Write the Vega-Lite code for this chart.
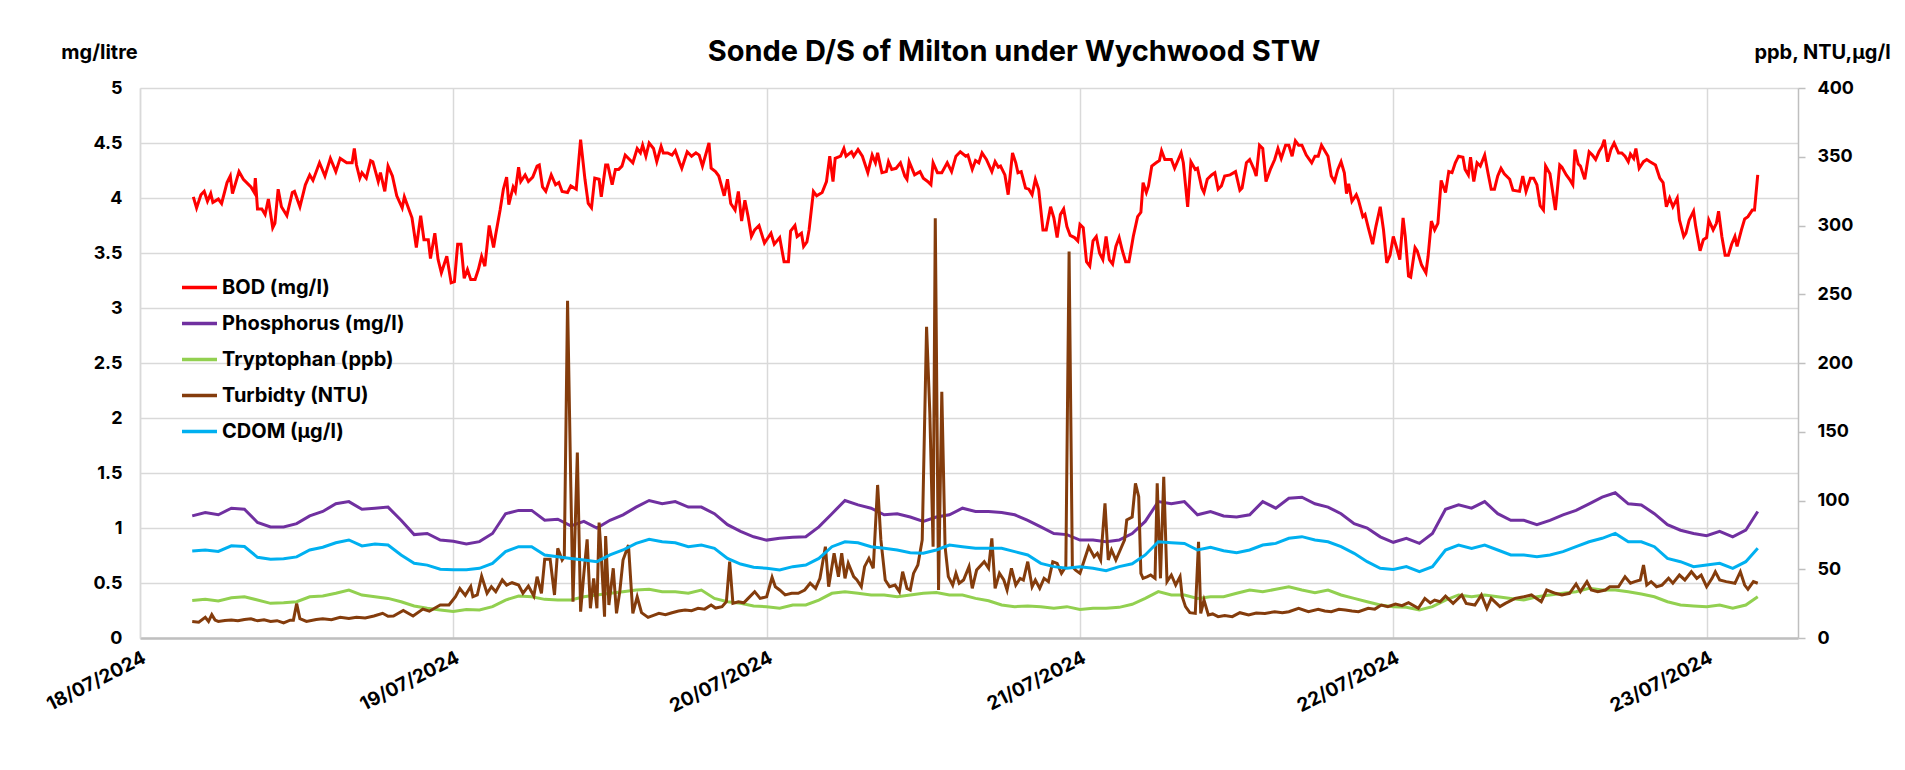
{
"$schema": "https://vega.github.io/schema/vega-lite/v6.json",
"width": 1658, "height": 550,
"autosize": {"type": "none"},
"padding": {"left": 140, "top": 88, "right": 107, "bottom": 132},
"background": "white",
"title": {"text": "Sonde D/S of Milton under Wychwood STW", "fontSize": 29, "fontWeight": "bold", "color": "#000", "anchor": "middle", "frame": "group", "dx": 45, "offset": -25, "font": "Inter"},
"config": {
 "font": "Inter",
 "view": {"stroke": null},
 "axis": {"labelColor": "#000", "titleColor": "#000", "labelFontWeight": "bold", "titleFontWeight": "bold", "labelFont": "Inter", "titleFont": "Inter"}
},
"datasets": {
"bod": [
{"t":"2024-07-18T04:05","v":4.01},{"t":"2024-07-18T04:20","v":3.91},{"t":"2024-07-18T04:40","v":4.03},{"t":"2024-07-18T04:55","v":4.06},{"t":"2024-07-18T05:10","v":3.97},{"t":"2024-07-18T05:25","v":4.04},{"t":"2024-07-18T05:35","v":3.96},{"t":"2024-07-18T06:00","v":3.99},{"t":"2024-07-18T06:15","v":3.95},{"t":"2024-07-18T06:40","v":4.14},{"t":"2024-07-18T06:55","v":4.2},{"t":"2024-07-18T07:05","v":4.04},{"t":"2024-07-18T07:35","v":4.24},{"t":"2024-07-18T07:55","v":4.17},{"t":"2024-07-18T08:30","v":4.1},{"t":"2024-07-18T08:45","v":4.05},{"t":"2024-07-18T08:50","v":4.18},{"t":"2024-07-18T09:00","v":3.9},{"t":"2024-07-18T09:20","v":3.9},{"t":"2024-07-18T09:35","v":3.85},{"t":"2024-07-18T09:50","v":3.99},{"t":"2024-07-18T10:10","v":3.73},{"t":"2024-07-18T10:20","v":3.77},{"t":"2024-07-18T10:35","v":4.08},{"t":"2024-07-18T10:50","v":3.92},{"t":"2024-07-18T11:15","v":3.84},{"t":"2024-07-18T11:40","v":4.05},{"t":"2024-07-18T11:50","v":4.06},{"t":"2024-07-18T12:15","v":3.92},{"t":"2024-07-18T12:40","v":4.12},{"t":"2024-07-18T13:00","v":4.21},{"t":"2024-07-18T13:15","v":4.16},{"t":"2024-07-18T13:45","v":4.32},{"t":"2024-07-18T14:10","v":4.2},{"t":"2024-07-18T14:35","v":4.36},{"t":"2024-07-18T15:00","v":4.24},{"t":"2024-07-18T15:20","v":4.36},{"t":"2024-07-18T15:50","v":4.32},{"t":"2024-07-18T16:15","v":4.32},{"t":"2024-07-18T16:25","v":4.45},{"t":"2024-07-18T16:35","v":4.3},{"t":"2024-07-18T16:50","v":4.18},{"t":"2024-07-18T17:00","v":4.23},{"t":"2024-07-18T17:20","v":4.18},{"t":"2024-07-18T17:40","v":4.34},{"t":"2024-07-18T17:50","v":4.33},{"t":"2024-07-18T18:15","v":4.15},{"t":"2024-07-18T18:25","v":4.23},{"t":"2024-07-18T18:45","v":4.06},{"t":"2024-07-18T19:00","v":4.29},{"t":"2024-07-18T19:20","v":4.2},{"t":"2024-07-18T19:40","v":4.02},{"t":"2024-07-18T20:05","v":3.91},{"t":"2024-07-18T20:15","v":4.01},{"t":"2024-07-18T20:50","v":3.82},{"t":"2024-07-18T21:10","v":3.55},{"t":"2024-07-18T21:30","v":3.84},{"t":"2024-07-18T21:45","v":3.62},{"t":"2024-07-18T22:05","v":3.62},{"t":"2024-07-18T22:15","v":3.45},{"t":"2024-07-18T22:35","v":3.68},{"t":"2024-07-18T22:50","v":3.44},{"t":"2024-07-18T23:05","v":3.32},{"t":"2024-07-18T23:30","v":3.47},{"t":"2024-07-18T23:50","v":3.23},
{"t":"2024-07-19T00:05","v":3.24},{"t":"2024-07-19T00:20","v":3.58},{"t":"2024-07-19T00:35","v":3.58},{"t":"2024-07-19T00:50","v":3.27},{"t":"2024-07-19T01:05","v":3.35},{"t":"2024-07-19T01:20","v":3.26},{"t":"2024-07-19T01:40","v":3.26},{"t":"2024-07-19T01:55","v":3.35},{"t":"2024-07-19T02:10","v":3.47},{"t":"2024-07-19T02:25","v":3.38},{"t":"2024-07-19T02:45","v":3.75},{"t":"2024-07-19T03:05","v":3.55},{"t":"2024-07-19T03:15","v":3.67},{"t":"2024-07-19T03:35","v":3.89},{"t":"2024-07-19T03:50","v":4.08},{"t":"2024-07-19T04:05","v":4.19},{"t":"2024-07-19T04:15","v":3.94},{"t":"2024-07-19T04:35","v":4.1},{"t":"2024-07-19T04:45","v":4.06},{"t":"2024-07-19T05:00","v":4.28},{"t":"2024-07-19T05:10","v":4.15},{"t":"2024-07-19T05:30","v":4.21},{"t":"2024-07-19T05:45","v":4.15},{"t":"2024-07-19T06:05","v":4.19},{"t":"2024-07-19T06:25","v":4.29},{"t":"2024-07-19T06:35","v":4.3},{"t":"2024-07-19T06:50","v":4.1},{"t":"2024-07-19T07:05","v":4.06},{"t":"2024-07-19T07:30","v":4.21},{"t":"2024-07-19T07:50","v":4.12},{"t":"2024-07-19T08:05","v":4.14},{"t":"2024-07-19T08:20","v":4.06},{"t":"2024-07-19T08:45","v":4.05},{"t":"2024-07-19T09:00","v":4.11},{"t":"2024-07-19T09:25","v":4.08},{"t":"2024-07-19T09:45","v":4.53},{"t":"2024-07-19T10:05","v":4.17},{"t":"2024-07-19T10:20","v":3.95},{"t":"2024-07-19T10:35","v":3.91},{"t":"2024-07-19T10:50","v":4.18},{"t":"2024-07-19T11:10","v":4.17},{"t":"2024-07-19T11:20","v":4.01},{"t":"2024-07-19T11:40","v":4.3},{"t":"2024-07-19T11:50","v":4.3},{"t":"2024-07-19T12:10","v":4.12},{"t":"2024-07-19T12:25","v":4.26},{"t":"2024-07-19T12:40","v":4.26},{"t":"2024-07-19T12:55","v":4.29},{"t":"2024-07-19T13:10","v":4.39},{"t":"2024-07-19T13:30","v":4.35},{"t":"2024-07-19T13:45","v":4.32},{"t":"2024-07-19T14:05","v":4.45},{"t":"2024-07-19T14:20","v":4.41},{"t":"2024-07-19T14:30","v":4.48},{"t":"2024-07-19T14:45","v":4.38},{"t":"2024-07-19T15:00","v":4.5},{"t":"2024-07-19T15:20","v":4.45},{"t":"2024-07-19T15:35","v":4.33},{"t":"2024-07-19T15:55","v":4.47},{"t":"2024-07-19T16:05","v":4.41},{"t":"2024-07-19T16:25","v":4.41},{"t":"2024-07-19T16:45","v":4.39},{"t":"2024-07-19T17:00","v":4.43},{"t":"2024-07-19T17:20","v":4.32},{"t":"2024-07-19T17:30","v":4.27},{"t":"2024-07-19T17:55","v":4.42},{"t":"2024-07-19T18:15","v":4.38},{"t":"2024-07-19T18:35","v":4.41},{"t":"2024-07-19T18:50","v":4.39},{"t":"2024-07-19T19:05","v":4.29},{"t":"2024-07-19T19:35","v":4.5},{"t":"2024-07-19T19:45","v":4.27},{"t":"2024-07-19T20:05","v":4.24},{"t":"2024-07-19T20:20","v":4.2},{"t":"2024-07-19T20:45","v":4.02},{"t":"2024-07-19T21:00","v":4.17},{"t":"2024-07-19T21:15","v":3.95},{"t":"2024-07-19T21:35","v":3.89},{"t":"2024-07-19T21:50","v":4.06},{"t":"2024-07-19T22:05","v":3.79},{"t":"2024-07-19T22:20","v":3.98},{"t":"2024-07-19T22:35","v":3.83},{"t":"2024-07-19T22:50","v":3.65},{"t":"2024-07-19T23:05","v":3.71},{"t":"2024-07-19T23:25","v":3.75},{"t":"2024-07-19T23:50","v":3.59},
{"t":"2024-07-20T00:20","v":3.68},{"t":"2024-07-20T00:35","v":3.58},{"t":"2024-07-20T01:00","v":3.64},{"t":"2024-07-20T01:20","v":3.42},{"t":"2024-07-20T01:40","v":3.42},{"t":"2024-07-20T01:50","v":3.7},{"t":"2024-07-20T02:10","v":3.75},{"t":"2024-07-20T02:20","v":3.65},{"t":"2024-07-20T02:40","v":3.68},{"t":"2024-07-20T02:50","v":3.56},{"t":"2024-07-20T03:05","v":3.6},{"t":"2024-07-20T03:15","v":3.71},{"t":"2024-07-20T03:35","v":4.06},{"t":"2024-07-20T03:50","v":4.02},{"t":"2024-07-20T04:15","v":4.05},{"t":"2024-07-20T04:35","v":4.15},{"t":"2024-07-20T04:50","v":4.38},{"t":"2024-07-20T05:05","v":4.15},{"t":"2024-07-20T05:15","v":4.36},{"t":"2024-07-20T05:40","v":4.38},{"t":"2024-07-20T05:55","v":4.45},{"t":"2024-07-20T06:05","v":4.38},{"t":"2024-07-20T06:30","v":4.42},{"t":"2024-07-20T06:40","v":4.38},{"t":"2024-07-20T07:00","v":4.44},{"t":"2024-07-20T07:20","v":4.38},{"t":"2024-07-20T07:45","v":4.23},{"t":"2024-07-20T08:05","v":4.39},{"t":"2024-07-20T08:20","v":4.32},{"t":"2024-07-20T08:30","v":4.41},{"t":"2024-07-20T08:50","v":4.23},{"t":"2024-07-20T09:10","v":4.24},{"t":"2024-07-20T09:20","v":4.33},{"t":"2024-07-20T09:35","v":4.26},{"t":"2024-07-20T09:55","v":4.27},{"t":"2024-07-20T10:15","v":4.32},{"t":"2024-07-20T10:35","v":4.2},{"t":"2024-07-20T10:45","v":4.17},{"t":"2024-07-20T10:55","v":4.33},{"t":"2024-07-20T11:20","v":4.21},{"t":"2024-07-20T11:45","v":4.24},{"t":"2024-07-20T12:00","v":4.18},{"t":"2024-07-20T12:20","v":4.15},{"t":"2024-07-20T12:35","v":4.12},{"t":"2024-07-20T12:45","v":4.32},{"t":"2024-07-20T13:05","v":4.23},{"t":"2024-07-20T13:25","v":4.23},{"t":"2024-07-20T13:50","v":4.32},{"t":"2024-07-20T14:10","v":4.24},{"t":"2024-07-20T14:30","v":4.38},{"t":"2024-07-20T14:50","v":4.42},{"t":"2024-07-20T15:15","v":4.38},{"t":"2024-07-20T15:25","v":4.39},{"t":"2024-07-20T15:45","v":4.26},{"t":"2024-07-20T16:00","v":4.34},{"t":"2024-07-20T16:15","v":4.32},{"t":"2024-07-20T16:30","v":4.41},{"t":"2024-07-20T16:50","v":4.35},{"t":"2024-07-20T17:15","v":4.24},{"t":"2024-07-20T17:30","v":4.33},{"t":"2024-07-20T17:45","v":4.28},{"t":"2024-07-20T17:55","v":4.29},{"t":"2024-07-20T18:15","v":4.21},{"t":"2024-07-20T18:30","v":4.03},{"t":"2024-07-20T18:50","v":4.41},{"t":"2024-07-20T19:05","v":4.32},{"t":"2024-07-20T19:15","v":4.23},{"t":"2024-07-20T19:30","v":4.24},{"t":"2024-07-20T19:50","v":4.09},{"t":"2024-07-20T20:05","v":4.08},{"t":"2024-07-20T20:20","v":4.03},{"t":"2024-07-20T20:35","v":4.17},{"t":"2024-07-20T20:50","v":4.08},{"t":"2024-07-20T21:10","v":3.71},{"t":"2024-07-20T21:25","v":3.71},{"t":"2024-07-20T21:45","v":3.92},{"t":"2024-07-20T22:00","v":3.82},{"t":"2024-07-20T22:15","v":3.64},{"t":"2024-07-20T22:30","v":3.85},{"t":"2024-07-20T22:45","v":3.9},{"t":"2024-07-20T23:00","v":3.74},{"t":"2024-07-20T23:15","v":3.66},{"t":"2024-07-20T23:35","v":3.64},{"t":"2024-07-20T23:50","v":3.61},
{"t":"2024-07-21T00:00","v":3.76},{"t":"2024-07-21T00:15","v":3.73},{"t":"2024-07-21T00:30","v":3.42},{"t":"2024-07-21T00:45","v":3.38},{"t":"2024-07-21T01:00","v":3.61},{"t":"2024-07-21T01:15","v":3.65},{"t":"2024-07-21T01:30","v":3.5},{"t":"2024-07-21T01:45","v":3.44},{"t":"2024-07-21T02:00","v":3.65},{"t":"2024-07-21T02:15","v":3.44},{"t":"2024-07-21T02:30","v":3.4},{"t":"2024-07-21T02:45","v":3.56},{"t":"2024-07-21T03:00","v":3.64},{"t":"2024-07-21T03:15","v":3.52},{"t":"2024-07-21T03:30","v":3.42},{"t":"2024-07-21T03:45","v":3.42},{"t":"2024-07-21T04:05","v":3.65},{"t":"2024-07-21T04:25","v":3.83},{"t":"2024-07-21T04:40","v":3.87},{"t":"2024-07-21T04:50","v":4.14},{"t":"2024-07-21T05:05","v":4.05},{"t":"2024-07-21T05:15","v":4.11},{"t":"2024-07-21T05:30","v":4.29},{"t":"2024-07-21T05:50","v":4.32},{"t":"2024-07-21T06:05","v":4.34},{"t":"2024-07-21T06:15","v":4.43},{"t":"2024-07-21T06:30","v":4.35},{"t":"2024-07-21T07:00","v":4.35},{"t":"2024-07-21T07:15","v":4.27},{"t":"2024-07-21T07:45","v":4.41},{"t":"2024-07-21T07:55","v":4.32},{"t":"2024-07-21T08:15","v":3.92},{"t":"2024-07-21T08:30","v":4.33},{"t":"2024-07-21T08:50","v":4.26},{"t":"2024-07-21T09:00","v":4.27},{"t":"2024-07-21T09:20","v":4.09},{"t":"2024-07-21T09:30","v":4.05},{"t":"2024-07-21T09:45","v":4.17},{"t":"2024-07-21T10:05","v":4.21},{"t":"2024-07-21T10:20","v":4.23},{"t":"2024-07-21T10:35","v":4.08},{"t":"2024-07-21T10:50","v":4.11},{"t":"2024-07-21T11:05","v":4.2},{"t":"2024-07-21T11:30","v":4.21},{"t":"2024-07-21T11:55","v":4.24},{"t":"2024-07-21T12:15","v":4.07},{"t":"2024-07-21T12:25","v":4.09},{"t":"2024-07-21T12:45","v":4.32},{"t":"2024-07-21T13:00","v":4.35},{"t":"2024-07-21T13:20","v":4.26},{"t":"2024-07-21T13:30","v":4.2},{"t":"2024-07-21T13:45","v":4.48},{"t":"2024-07-21T14:00","v":4.45},{"t":"2024-07-21T14:15","v":4.15},{"t":"2024-07-21T14:35","v":4.26},{"t":"2024-07-21T14:55","v":4.35},{"t":"2024-07-21T15:10","v":4.45},{"t":"2024-07-21T15:25","v":4.36},{"t":"2024-07-21T15:45","v":4.48},{"t":"2024-07-21T16:00","v":4.48},{"t":"2024-07-21T16:15","v":4.38},{"t":"2024-07-21T16:30","v":4.52},{"t":"2024-07-21T16:45","v":4.48},{"t":"2024-07-21T17:00","v":4.48},{"t":"2024-07-21T17:20","v":4.39},{"t":"2024-07-21T17:45","v":4.32},{"t":"2024-07-21T18:00","v":4.38},{"t":"2024-07-21T18:15","v":4.38},{"t":"2024-07-21T18:30","v":4.48},{"t":"2024-07-21T18:45","v":4.43},{"t":"2024-07-21T19:00","v":4.38},{"t":"2024-07-21T19:15","v":4.2},{"t":"2024-07-21T19:30","v":4.15},{"t":"2024-07-21T19:45","v":4.26},{"t":"2024-07-21T20:00","v":4.33},{"t":"2024-07-21T20:15","v":4.23},{"t":"2024-07-21T20:25","v":4.04},{"t":"2024-07-21T20:35","v":4.13},{"t":"2024-07-21T20:50","v":3.97},{"t":"2024-07-21T21:10","v":4.03},{"t":"2024-07-21T21:20","v":3.98},{"t":"2024-07-21T21:40","v":3.83},{"t":"2024-07-21T21:50","v":3.85},{"t":"2024-07-21T22:05","v":3.73},{"t":"2024-07-21T22:25","v":3.58},{"t":"2024-07-21T22:40","v":3.74},{"t":"2024-07-21T23:00","v":3.92},{"t":"2024-07-21T23:15","v":3.71},{"t":"2024-07-21T23:30","v":3.41},{"t":"2024-07-21T23:45","v":3.48},
{"t":"2024-07-22T00:00","v":3.65},{"t":"2024-07-22T00:15","v":3.55},{"t":"2024-07-22T00:30","v":3.44},{"t":"2024-07-22T00:45","v":3.82},{"t":"2024-07-22T00:55","v":3.65},{"t":"2024-07-22T01:10","v":3.29},{"t":"2024-07-22T01:20","v":3.28},{"t":"2024-07-22T01:40","v":3.55},{"t":"2024-07-22T01:50","v":3.52},{"t":"2024-07-22T02:10","v":3.39},{"t":"2024-07-22T02:30","v":3.32},{"t":"2024-07-22T02:40","v":3.47},{"t":"2024-07-22T02:55","v":3.79},{"t":"2024-07-22T03:10","v":3.71},{"t":"2024-07-22T03:25","v":3.77},{"t":"2024-07-22T03:40","v":4.16},{"t":"2024-07-22T04:00","v":4.05},{"t":"2024-07-22T04:15","v":4.24},{"t":"2024-07-22T04:30","v":4.23},{"t":"2024-07-22T04:45","v":4.32},{"t":"2024-07-22T05:00","v":4.38},{"t":"2024-07-22T05:20","v":4.37},{"t":"2024-07-22T05:30","v":4.26},{"t":"2024-07-22T05:45","v":4.21},{"t":"2024-07-22T05:55","v":4.37},{"t":"2024-07-22T06:10","v":4.15},{"t":"2024-07-22T06:25","v":4.32},{"t":"2024-07-22T06:40","v":4.29},{"t":"2024-07-22T07:00","v":4.39},{"t":"2024-07-22T07:15","v":4.23},{"t":"2024-07-22T07:30","v":4.08},{"t":"2024-07-22T07:45","v":4.08},{"t":"2024-07-22T08:00","v":4.2},{"t":"2024-07-22T08:15","v":4.27},{"t":"2024-07-22T08:30","v":4.22},{"t":"2024-07-22T08:55","v":4.17},{"t":"2024-07-22T09:10","v":4.07},{"t":"2024-07-22T09:40","v":4.06},{"t":"2024-07-22T09:55","v":4.2},{"t":"2024-07-22T10:10","v":4.06},{"t":"2024-07-22T10:30","v":4.18},{"t":"2024-07-22T10:45","v":4.18},{"t":"2024-07-22T11:00","v":4.12},{"t":"2024-07-22T11:15","v":3.93},{"t":"2024-07-22T11:30","v":3.89},{"t":"2024-07-22T11:40","v":4.29},{"t":"2024-07-22T12:00","v":4.22},{"t":"2024-07-22T12:25","v":3.89},{"t":"2024-07-22T12:45","v":4.3},{"t":"2024-07-22T12:55","v":4.28},{"t":"2024-07-22T13:15","v":4.21},{"t":"2024-07-22T13:30","v":4.17},{"t":"2024-07-22T13:45","v":4.12},{"t":"2024-07-22T13:55","v":4.44},{"t":"2024-07-22T14:10","v":4.31},{"t":"2024-07-22T14:20","v":4.29},{"t":"2024-07-22T14:40","v":4.17},{"t":"2024-07-22T15:00","v":4.42},{"t":"2024-07-22T15:15","v":4.39},{"t":"2024-07-22T15:30","v":4.35},{"t":"2024-07-22T15:45","v":4.42},{"t":"2024-07-22T16:00","v":4.47},{"t":"2024-07-22T16:10","v":4.53},{"t":"2024-07-22T16:25","v":4.33},{"t":"2024-07-22T16:40","v":4.44},{"t":"2024-07-22T16:55","v":4.5},{"t":"2024-07-22T17:15","v":4.41},{"t":"2024-07-22T17:30","v":4.41},{"t":"2024-07-22T17:45","v":4.38},{"t":"2024-07-22T18:00","v":4.33},{"t":"2024-07-22T18:10","v":4.4},{"t":"2024-07-22T18:25","v":4.36},{"t":"2024-07-22T18:35","v":4.45},{"t":"2024-07-22T18:50","v":4.27},{"t":"2024-07-22T19:10","v":4.33},{"t":"2024-07-22T19:25","v":4.35},{"t":"2024-07-22T19:40","v":4.33},{"t":"2024-07-22T20:05","v":4.3},{"t":"2024-07-22T20:25","v":4.18},{"t":"2024-07-22T20:40","v":4.14},{"t":"2024-07-22T20:55","v":3.92},{"t":"2024-07-22T21:10","v":4.0},{"t":"2024-07-22T21:25","v":3.92},{"t":"2024-07-22T21:45","v":4.0},{"t":"2024-07-22T21:55","v":3.8},{"t":"2024-07-22T22:15","v":3.65},{"t":"2024-07-22T22:25","v":3.68},{"t":"2024-07-22T22:40","v":3.8},{"t":"2024-07-22T23:00","v":3.88},{"t":"2024-07-22T23:10","v":3.74},{"t":"2024-07-22T23:30","v":3.52},{"t":"2024-07-22T23:45","v":3.62},
{"t":"2024-07-23T00:00","v":3.64},{"t":"2024-07-23T00:10","v":3.8},{"t":"2024-07-23T00:30","v":3.71},{"t":"2024-07-23T00:45","v":3.77},{"t":"2024-07-23T00:55","v":3.88},{"t":"2024-07-23T01:10","v":3.65},{"t":"2024-07-23T01:25","v":3.48},{"t":"2024-07-23T01:40","v":3.48},{"t":"2024-07-23T01:55","v":3.58},{"t":"2024-07-23T02:10","v":3.65},{"t":"2024-07-23T02:20","v":3.56},{"t":"2024-07-23T02:40","v":3.71},{"t":"2024-07-23T02:55","v":3.81},{"t":"2024-07-23T03:10","v":3.83},{"t":"2024-07-23T03:30","v":3.89},{"t":"2024-07-23T03:40","v":3.89},{"t":"2024-07-23T03:55","v":4.21}
],
"tu": [
{"t":"2024-07-18T04:00","v":12},{"t":"2024-07-18T04:30","v":11.5},{"t":"2024-07-18T05:00","v":15},{"t":"2024-07-18T05:15","v":12},{"t":"2024-07-18T05:30","v":17},{"t":"2024-07-18T05:45","v":13},{"t":"2024-07-18T06:00","v":12},{"t":"2024-07-18T06:30","v":12.8},{"t":"2024-07-18T07:00","v":13},{"t":"2024-07-18T07:30","v":12.5},{"t":"2024-07-18T08:00","v":13.5},{"t":"2024-07-18T08:30","v":14},{"t":"2024-07-18T09:00","v":12.5},{"t":"2024-07-18T09:30","v":13.2},{"t":"2024-07-18T10:00","v":12},{"t":"2024-07-18T10:30","v":12.6},{"t":"2024-07-18T11:00","v":11},{"t":"2024-07-18T11:30","v":13},{"t":"2024-07-18T11:45","v":13},{"t":"2024-07-18T12:00","v":25},{"t":"2024-07-18T12:15","v":14},{"t":"2024-07-18T12:45","v":12},{"t":"2024-07-18T13:30","v":13.5},{"t":"2024-07-18T14:00","v":14},{"t":"2024-07-18T14:40","v":13.3},{"t":"2024-07-18T15:20","v":15},{"t":"2024-07-18T16:00","v":14.2},{"t":"2024-07-18T16:35","v":15},{"t":"2024-07-18T17:15","v":14.6},{"t":"2024-07-18T17:55","v":16},{"t":"2024-07-18T18:35","v":18},{"t":"2024-07-18T19:00","v":15.8},{"t":"2024-07-18T19:25","v":16},{"t":"2024-07-18T20:10","v":20},{"t":"2024-07-18T20:55","v":16},{"t":"2024-07-18T21:40","v":21},{"t":"2024-07-18T22:10","v":19.5},{"t":"2024-07-18T23:00","v":24},{"t":"2024-07-18T23:40","v":24},
{"t":"2024-07-19T00:10","v":30},{"t":"2024-07-19T00:30","v":36},{"t":"2024-07-19T00:55","v":31},{"t":"2024-07-19T01:20","v":37.5},{"t":"2024-07-19T01:30","v":30},{"t":"2024-07-19T01:50","v":31.3},{"t":"2024-07-19T02:10","v":45},{"t":"2024-07-19T02:35","v":32.5},{"t":"2024-07-19T02:55","v":37.3},{"t":"2024-07-19T03:15","v":33.7},{"t":"2024-07-19T03:45","v":42.2},{"t":"2024-07-19T04:05","v":38.5},{"t":"2024-07-19T04:30","v":40.2},{"t":"2024-07-19T05:00","v":38.5},{"t":"2024-07-19T05:20","v":32.5},{"t":"2024-07-19T05:45","v":37.8},{"t":"2024-07-19T06:10","v":30.5},{"t":"2024-07-19T06:25","v":44.6},{"t":"2024-07-19T06:45","v":32.5},{"t":"2024-07-19T07:00","v":57.2},{"t":"2024-07-19T07:25","v":57.2},{"t":"2024-07-19T07:45","v":31.3},{"t":"2024-07-19T08:00","v":65.2},{"t":"2024-07-19T08:20","v":56.7},{"t":"2024-07-19T08:30","v":59.1},{"t":"2024-07-19T08:45","v":245.3},{"t":"2024-07-19T09:00","v":110},{"t":"2024-07-19T09:10","v":26.4},{"t":"2024-07-19T09:30","v":134.8},{"t":"2024-07-19T09:45","v":19.1},{"t":"2024-07-19T10:00","v":47},{"t":"2024-07-19T10:15","v":71.8},{"t":"2024-07-19T10:30","v":21.6},{"t":"2024-07-19T10:45","v":43.4},{"t":"2024-07-19T11:00","v":21.6},{"t":"2024-07-19T11:10","v":83.9},{"t":"2024-07-19T11:20","v":59.1},{"t":"2024-07-19T11:35","v":15.5},{"t":"2024-07-19T11:40","v":74.2},{"t":"2024-07-19T11:55","v":24},{"t":"2024-07-19T12:15","v":50.7},{"t":"2024-07-19T12:30","v":17.9},{"t":"2024-07-19T12:45","v":33.7},{"t":"2024-07-19T13:00","v":56.7},{"t":"2024-07-19T13:25","v":67.6},{"t":"2024-07-19T13:45","v":17.9},{"t":"2024-07-19T14:05","v":30},{"t":"2024-07-19T14:25","v":18.4},{"t":"2024-07-19T14:55","v":15},{"t":"2024-07-19T15:20","v":16.5},{"t":"2024-07-19T15:45","v":17.9},{"t":"2024-07-19T16:15","v":17},{"t":"2024-07-19T16:45","v":18.4},{"t":"2024-07-19T17:15","v":19.6},{"t":"2024-07-19T17:45","v":20.4},{"t":"2024-07-19T18:15","v":19.8},{"t":"2024-07-19T18:45","v":21.6},{"t":"2024-07-19T19:15","v":21},{"t":"2024-07-19T19:45","v":24},{"t":"2024-07-19T20:05","v":21.8},{"t":"2024-07-19T20:35","v":22.8},{"t":"2024-07-19T20:55","v":26.4},{"t":"2024-07-19T21:10","v":55.5},{"t":"2024-07-19T21:25","v":25.2},{"t":"2024-07-19T21:50","v":26.4},{"t":"2024-07-19T22:15","v":25.6},{"t":"2024-07-19T22:35","v":28.8},{"t":"2024-07-19T23:05","v":33.7},{"t":"2024-07-19T23:30","v":28.8},
{"t":"2024-07-20T00:00","v":30},{"t":"2024-07-20T00:25","v":44.1},{"t":"2024-07-20T00:40","v":37.3},{"t":"2024-07-20T01:00","v":34.9},{"t":"2024-07-20T01:25","v":31.3},{"t":"2024-07-20T01:55","v":32.5},{"t":"2024-07-20T02:25","v":32.5},{"t":"2024-07-20T02:55","v":34.9},{"t":"2024-07-20T03:20","v":39.8},{"t":"2024-07-20T03:45","v":36.1},{"t":"2024-07-20T04:05","v":43.4},{"t":"2024-07-20T04:30","v":66.4},{"t":"2024-07-20T04:45","v":37.3},{"t":"2024-07-20T05:10","v":61.6},{"t":"2024-07-20T05:30","v":44.6},{"t":"2024-07-20T05:45","v":61.6},{"t":"2024-07-20T06:00","v":43.4},{"t":"2024-07-20T06:15","v":54.3},{"t":"2024-07-20T06:40","v":44.6},{"t":"2024-07-20T06:55","v":42.2},{"t":"2024-07-20T07:15","v":37.3},{"t":"2024-07-20T07:30","v":51.9},{"t":"2024-07-20T07:50","v":57.9},{"t":"2024-07-20T08:10","v":50.7},{"t":"2024-07-20T08:30","v":111.3},{"t":"2024-07-20T08:45","v":71.3},{"t":"2024-07-20T09:05","v":42.2},{"t":"2024-07-20T09:25","v":37.3},{"t":"2024-07-20T09:50","v":38.5},{"t":"2024-07-20T10:10","v":33.7},{"t":"2024-07-20T10:25","v":48.2},{"t":"2024-07-20T10:45","v":36.1},{"t":"2024-07-20T11:00","v":34.9},{"t":"2024-07-20T11:15","v":47},{"t":"2024-07-20T11:35","v":53.1},{"t":"2024-07-20T11:55","v":71.3},{"t":"2024-07-20T12:15","v":226.4},{"t":"2024-07-20T12:30","v":163.4},{"t":"2024-07-20T12:45","v":66.4},{"t":"2024-07-20T12:55","v":305.2},{"t":"2024-07-20T13:10","v":34.9},{"t":"2024-07-20T13:25","v":179.1},{"t":"2024-07-20T13:40","v":66.4},{"t":"2024-07-20T13:55","v":44.6},{"t":"2024-07-20T14:15","v":38.5},{"t":"2024-07-20T14:30","v":47},{"t":"2024-07-20T14:45","v":39.8},{"t":"2024-07-20T15:05","v":42.2},{"t":"2024-07-20T15:30","v":51.9},{"t":"2024-07-20T15:45","v":36.1},{"t":"2024-07-20T16:05","v":49.4},{"t":"2024-07-20T16:40","v":55.5},{"t":"2024-07-20T17:00","v":50.7},{"t":"2024-07-20T17:15","v":72.5},{"t":"2024-07-20T17:30","v":36.1},{"t":"2024-07-20T17:50","v":47},{"t":"2024-07-20T18:10","v":42.2},{"t":"2024-07-20T18:25","v":34.9},{"t":"2024-07-20T18:45","v":50.7},{"t":"2024-07-20T19:05","v":38.5},{"t":"2024-07-20T19:25","v":43.4},{"t":"2024-07-20T19:40","v":42.2},{"t":"2024-07-20T20:00","v":55.5},{"t":"2024-07-20T20:20","v":37.3},{"t":"2024-07-20T20:35","v":42.2},{"t":"2024-07-20T20:55","v":36.1},{"t":"2024-07-20T21:15","v":43.4},{"t":"2024-07-20T21:35","v":41},{"t":"2024-07-20T21:55","v":55.5},{"t":"2024-07-20T22:15","v":54.3},{"t":"2024-07-20T22:35","v":47},{"t":"2024-07-20T22:55","v":51.9},{"t":"2024-07-20T23:10","v":281},{"t":"2024-07-20T23:25","v":51.9},{"t":"2024-07-20T23:40","v":49.4},
{"t":"2024-07-21T00:00","v":47},{"t":"2024-07-21T00:20","v":56.7},{"t":"2024-07-21T00:40","v":66.4},{"t":"2024-07-21T01:05","v":59.1},{"t":"2024-07-21T01:20","v":61.6},{"t":"2024-07-21T01:35","v":56.7},{"t":"2024-07-21T01:55","v":97.9},{"t":"2024-07-21T02:10","v":56.7},{"t":"2024-07-21T02:25","v":64},{"t":"2024-07-21T02:45","v":56.7},{"t":"2024-07-21T03:05","v":64},{"t":"2024-07-21T03:25","v":71.3},{"t":"2024-07-21T03:35","v":85.8},{"t":"2024-07-21T04:00","v":88},{"t":"2024-07-21T04:15","v":112.5},{"t":"2024-07-21T04:30","v":102.8},{"t":"2024-07-21T04:40","v":47},{"t":"2024-07-21T04:50","v":43.4},{"t":"2024-07-21T05:10","v":44.6},{"t":"2024-07-21T05:25","v":45.8},{"t":"2024-07-21T05:45","v":43.4},{"t":"2024-07-21T05:55","v":112.5},{"t":"2024-07-21T06:10","v":43.4},{"t":"2024-07-21T06:25","v":117.3},{"t":"2024-07-21T06:40","v":41},{"t":"2024-07-21T07:00","v":45.8},{"t":"2024-07-21T07:20","v":38.5},{"t":"2024-07-21T07:40","v":44.6},{"t":"2024-07-21T07:50","v":30},{"t":"2024-07-21T08:05","v":22.8},{"t":"2024-07-21T08:25","v":18.4},{"t":"2024-07-21T08:50","v":17.9},{"t":"2024-07-21T09:05","v":70},{"t":"2024-07-21T09:15","v":17.9},{"t":"2024-07-21T09:30","v":27.6},{"t":"2024-07-21T09:50","v":16.7},{"t":"2024-07-21T10:10","v":17.5},{"t":"2024-07-21T10:35","v":15.5},{"t":"2024-07-21T11:05","v":16.3},{"t":"2024-07-21T11:40","v":15.5},{"t":"2024-07-21T12:15","v":18.4},{"t":"2024-07-21T12:55","v":16.7},{"t":"2024-07-21T13:30","v":18.2},{"t":"2024-07-21T14:10","v":17.9},{"t":"2024-07-21T14:55","v":19.1},{"t":"2024-07-21T15:30","v":18.3},{"t":"2024-07-21T16:00","v":19.1},{"t":"2024-07-21T16:45","v":21.6},{"t":"2024-07-21T17:30","v":19.1},{"t":"2024-07-21T18:15","v":20.8},{"t":"2024-07-21T18:45","v":19.6},{"t":"2024-07-21T19:15","v":19.1},{"t":"2024-07-21T19:50","v":20.9},{"t":"2024-07-21T20:20","v":20.4},{"t":"2024-07-21T20:50","v":19.6},{"t":"2024-07-21T21:20","v":19.1},{"t":"2024-07-21T22:05","v":21.6},{"t":"2024-07-21T22:35","v":21},{"t":"2024-07-21T23:05","v":24},{"t":"2024-07-21T23:35","v":22.8},
{"t":"2024-07-22T00:10","v":24.7},{"t":"2024-07-22T00:40","v":23.5},{"t":"2024-07-22T01:10","v":25.7},{"t":"2024-07-22T01:55","v":21.6},{"t":"2024-07-22T02:25","v":28.8},{"t":"2024-07-22T02:50","v":25.5},{"t":"2024-07-22T03:10","v":27.6},{"t":"2024-07-22T03:35","v":26.4},{"t":"2024-07-22T04:00","v":30.5},{"t":"2024-07-22T04:35","v":25.2},{"t":"2024-07-22T05:15","v":31.3},{"t":"2024-07-22T05:35","v":25.2},{"t":"2024-07-22T06:15","v":24},{"t":"2024-07-22T06:45","v":31.3},{"t":"2024-07-22T07:10","v":21.6},{"t":"2024-07-22T07:30","v":28.8},{"t":"2024-07-22T08:10","v":22.8},{"t":"2024-07-22T08:35","v":25.2},{"t":"2024-07-22T09:20","v":28.8},{"t":"2024-07-22T10:00","v":30},{"t":"2024-07-22T10:35","v":31.3},{"t":"2024-07-22T11:20","v":26.4},{"t":"2024-07-22T11:45","v":34.9},{"t":"2024-07-22T12:25","v":32.5},{"t":"2024-07-22T12:55","v":31.3},{"t":"2024-07-22T13:30","v":32.5},{"t":"2024-07-22T14:00","v":39.3},{"t":"2024-07-22T14:20","v":33.7},{"t":"2024-07-22T14:50","v":41},{"t":"2024-07-22T15:10","v":34.9},{"t":"2024-07-22T15:40","v":33.7},{"t":"2024-07-22T16:15","v":34.9},{"t":"2024-07-22T16:35","v":37.3},{"t":"2024-07-22T17:15","v":37.3},{"t":"2024-07-22T17:45","v":44.6},{"t":"2024-07-22T18:10","v":39.8},{"t":"2024-07-22T18:30","v":41},{"t":"2024-07-22T18:55","v":42.2},{"t":"2024-07-22T19:10","v":53.1},{"t":"2024-07-22T19:25","v":38.5},{"t":"2024-07-22T19:45","v":41},{"t":"2024-07-22T20:10","v":37.3},{"t":"2024-07-22T20:35","v":38.5},{"t":"2024-07-22T21:05","v":43.4},{"t":"2024-07-22T21:25","v":39.8},{"t":"2024-07-22T21:55","v":45.8},{"t":"2024-07-22T22:20","v":42.2},{"t":"2024-07-22T22:50","v":48.2},{"t":"2024-07-22T23:15","v":43.4},{"t":"2024-07-22T23:35","v":45.8},
{"t":"2024-07-23T00:00","v":37.3},{"t":"2024-07-23T00:25","v":43.4},{"t":"2024-07-23T00:40","v":48.2},{"t":"2024-07-23T01:00","v":42.2},{"t":"2024-07-23T01:30","v":41},{"t":"2024-07-23T02:10","v":39.8},{"t":"2024-07-23T02:35","v":48.2},{"t":"2024-07-23T02:55","v":38.5},{"t":"2024-07-23T03:10","v":35.4},{"t":"2024-07-23T03:35","v":41},{"t":"2024-07-23T03:55","v":39.8}
],
"hr": [
{"t":"2024-07-18T04:00","p":1.11,"tr":27.2,"cd":63.3},{"t":"2024-07-18T05:00","p":1.14,"tr":28.1,"cd":64},{"t":"2024-07-18T06:00","p":1.12,"tr":26.9,"cd":63},{"t":"2024-07-18T07:00","p":1.18,"tr":29.3,"cd":67},{"t":"2024-07-18T08:00","p":1.17,"tr":30,"cd":66.5},{"t":"2024-07-18T09:00","p":1.05,"tr":27.6,"cd":58.7},{"t":"2024-07-18T10:00","p":1.01,"tr":25.2,"cd":57.2},{"t":"2024-07-18T11:00","p":1.01,"tr":25.6,"cd":57.7},{"t":"2024-07-18T12:00","p":1.04,"tr":26.4,"cd":59},{"t":"2024-07-18T13:00","p":1.11,"tr":30,"cd":64},{"t":"2024-07-18T14:00","p":1.15,"tr":30.5,"cd":66},{"t":"2024-07-18T15:00","p":1.22,"tr":32.5,"cd":69.3},{"t":"2024-07-18T16:00","p":1.24,"tr":34.9,"cd":71.3},{"t":"2024-07-18T17:00","p":1.17,"tr":31.2,"cd":67},{"t":"2024-07-18T18:00","p":1.18,"tr":30,"cd":68.4},{"t":"2024-07-18T19:00","p":1.19,"tr":28.8,"cd":67.6},{"t":"2024-07-18T20:00","p":1.07,"tr":26.4,"cd":60.4},{"t":"2024-07-18T21:00","p":0.94,"tr":23.3,"cd":54.4},{"t":"2024-07-18T22:00","p":0.95,"tr":21.6,"cd":53},{"t":"2024-07-18T23:00","p":0.89,"tr":20.4,"cd":50},
{"t":"2024-07-19T00:00","p":0.88,"tr":19.2,"cd":49.6},{"t":"2024-07-19T01:00","p":0.855,"tr":20.8,"cd":49.6},{"t":"2024-07-19T02:00","p":0.876,"tr":20.4,"cd":50.7},{"t":"2024-07-19T03:00","p":0.95,"tr":22.8,"cd":54.3},{"t":"2024-07-19T04:00","p":1.13,"tr":27.6,"cd":62.8},{"t":"2024-07-19T05:00","p":1.16,"tr":30.5,"cd":66.4},{"t":"2024-07-19T06:00","p":1.16,"tr":30,"cd":66.4},{"t":"2024-07-19T07:00","p":1.07,"tr":28.1,"cd":60.4},{"t":"2024-07-19T08:00","p":1.08,"tr":27.6,"cd":59.1},{"t":"2024-07-19T09:00","p":1.02,"tr":27.6,"cd":57.9},{"t":"2024-07-19T10:00","p":1.06,"tr":30,"cd":56.7},{"t":"2024-07-19T11:00","p":1.0,"tr":31.3,"cd":55.5},{"t":"2024-07-19T12:00","p":1.07,"tr":32.5,"cd":60.4},{"t":"2024-07-19T13:00","p":1.12,"tr":33.7,"cd":64},{"t":"2024-07-19T14:00","p":1.19,"tr":34.9,"cd":68.8},{"t":"2024-07-19T15:00","p":1.25,"tr":35.4,"cd":71.8},{"t":"2024-07-19T16:00","p":1.22,"tr":33.7,"cd":70},{"t":"2024-07-19T17:00","p":1.24,"tr":33.7,"cd":69.3},{"t":"2024-07-19T18:00","p":1.19,"tr":32.5,"cd":66.4},{"t":"2024-07-19T19:00","p":1.19,"tr":34.9,"cd":67.6},{"t":"2024-07-19T20:00","p":1.13,"tr":28.8,"cd":65.2},{"t":"2024-07-19T21:00","p":1.03,"tr":26.4,"cd":57.9},{"t":"2024-07-19T22:00","p":0.97,"tr":25.2,"cd":53.8},{"t":"2024-07-19T23:00","p":0.92,"tr":23.3,"cd":51.4},
{"t":"2024-07-20T00:00","p":0.89,"tr":22.8,"cd":50.7},{"t":"2024-07-20T01:00","p":0.906,"tr":21.6,"cd":49.4},{"t":"2024-07-20T02:00","p":0.915,"tr":24,"cd":51.9},{"t":"2024-07-20T03:00","p":0.92,"tr":24,"cd":53.1},{"t":"2024-07-20T04:00","p":1.01,"tr":27.6,"cd":57.9},{"t":"2024-07-20T05:00","p":1.13,"tr":32.5,"cd":66.4},{"t":"2024-07-20T06:00","p":1.25,"tr":33.7,"cd":70},{"t":"2024-07-20T07:00","p":1.21,"tr":32.5,"cd":69.3},{"t":"2024-07-20T08:00","p":1.18,"tr":31.3,"cd":66.4},{"t":"2024-07-20T09:00","p":1.12,"tr":31.3,"cd":65.2},{"t":"2024-07-20T10:00","p":1.13,"tr":30,"cd":64},{"t":"2024-07-20T11:00","p":1.1,"tr":31.3,"cd":62},{"t":"2024-07-20T12:00","p":1.06,"tr":32.5,"cd":61.6},{"t":"2024-07-20T13:00","p":1.1,"tr":33,"cd":64},{"t":"2024-07-20T14:00","p":1.12,"tr":31.3,"cd":67.6},{"t":"2024-07-20T15:00","p":1.18,"tr":31.3,"cd":66.4},{"t":"2024-07-20T16:00","p":1.15,"tr":28.8,"cd":65.2},{"t":"2024-07-20T17:00","p":1.15,"tr":27.1,"cd":65.2},{"t":"2024-07-20T18:00","p":1.14,"tr":24,"cd":65.2},{"t":"2024-07-20T19:00","p":1.12,"tr":22.8,"cd":62.8},{"t":"2024-07-20T20:00","p":1.07,"tr":23.3,"cd":60.4},{"t":"2024-07-20T21:00","p":1.01,"tr":22.8,"cd":54.3},{"t":"2024-07-20T22:00","p":0.95,"tr":21.6,"cd":51.9},{"t":"2024-07-20T23:00","p":0.94,"tr":22.8,"cd":50.7},
{"t":"2024-07-21T00:00","p":0.89,"tr":20.8,"cd":51.9},{"t":"2024-07-21T01:00","p":0.89,"tr":21.6,"cd":50.7},{"t":"2024-07-21T02:00","p":0.876,"tr":21.6,"cd":49},{"t":"2024-07-21T03:00","p":0.89,"tr":22.3,"cd":51.9},{"t":"2024-07-21T04:00","p":0.95,"tr":24.5,"cd":54},{"t":"2024-07-21T05:00","p":1.06,"tr":28.8,"cd":60.4},{"t":"2024-07-21T06:00","p":1.24,"tr":33.7,"cd":70},{"t":"2024-07-21T07:00","p":1.22,"tr":31.3,"cd":69.3},{"t":"2024-07-21T08:00","p":1.24,"tr":31.3,"cd":68.8},{"t":"2024-07-21T09:00","p":1.12,"tr":28.8,"cd":64},{"t":"2024-07-21T10:00","p":1.15,"tr":30,"cd":65.9},{"t":"2024-07-21T11:00","p":1.11,"tr":30,"cd":63.5},{"t":"2024-07-21T12:00","p":1.1,"tr":32.5,"cd":62},{"t":"2024-07-21T13:00","p":1.12,"tr":34.9,"cd":64},{"t":"2024-07-21T14:00","p":1.24,"tr":33.7,"cd":67.6},{"t":"2024-07-21T15:00","p":1.18,"tr":35.4,"cd":68.8},{"t":"2024-07-21T16:00","p":1.27,"tr":37.3,"cd":72.5},{"t":"2024-07-21T17:00","p":1.28,"tr":34.9,"cd":73.7},{"t":"2024-07-21T18:00","p":1.22,"tr":33,"cd":71.3},{"t":"2024-07-21T19:00","p":1.19,"tr":34.9,"cd":70},{"t":"2024-07-21T20:00","p":1.13,"tr":31.3,"cd":66.4},{"t":"2024-07-21T21:00","p":1.04,"tr":28.8,"cd":61.6},{"t":"2024-07-21T22:00","p":1.0,"tr":26.4,"cd":55.5},{"t":"2024-07-21T23:00","p":0.92,"tr":24,"cd":50.7},
{"t":"2024-07-22T00:00","p":0.87,"tr":22.8,"cd":49.9},{"t":"2024-07-22T01:00","p":0.906,"tr":22.3,"cd":51.9},{"t":"2024-07-22T02:00","p":0.86,"tr":20.4,"cd":48.2},{"t":"2024-07-22T03:00","p":0.95,"tr":22.8,"cd":51.9},{"t":"2024-07-22T04:00","p":1.17,"tr":27.6,"cd":64},{"t":"2024-07-22T05:00","p":1.21,"tr":31.3,"cd":67.6},{"t":"2024-07-22T06:00","p":1.18,"tr":30,"cd":65.2},{"t":"2024-07-22T07:00","p":1.24,"tr":31.3,"cd":67.6},{"t":"2024-07-22T08:00","p":1.13,"tr":30,"cd":64},{"t":"2024-07-22T09:00","p":1.07,"tr":28.8,"cd":60.4},{"t":"2024-07-22T10:00","p":1.07,"tr":27.6,"cd":60.4},{"t":"2024-07-22T11:00","p":1.03,"tr":30,"cd":59.1},{"t":"2024-07-22T12:00","p":1.07,"tr":31.3,"cd":60.4},{"t":"2024-07-22T13:00","p":1.12,"tr":32.5,"cd":62.8},{"t":"2024-07-22T14:00","p":1.16,"tr":33.7,"cd":66.4},{"t":"2024-07-22T15:00","p":1.22,"tr":36.1,"cd":70},{"t":"2024-07-22T16:00","p":1.28,"tr":34.9,"cd":72.5},{"t":"2024-07-22T17:00","p":1.32,"tr":34.9,"cd":76.1},{"t":"2024-07-22T18:00","p":1.22,"tr":33.7,"cd":70},{"t":"2024-07-22T19:00","p":1.21,"tr":32,"cd":70},{"t":"2024-07-22T20:00","p":1.13,"tr":30,"cd":66.4},{"t":"2024-07-22T21:00","p":1.03,"tr":26.4,"cd":57.9},{"t":"2024-07-22T22:00","p":0.98,"tr":24,"cd":55.5},{"t":"2024-07-22T23:00","p":0.95,"tr":23.3,"cd":51.9},
{"t":"2024-07-23T00:00","p":0.93,"tr":22.8,"cd":53.1},{"t":"2024-07-23T01:00","p":0.97,"tr":24,"cd":54.3},{"t":"2024-07-23T02:00","p":0.92,"tr":21.6,"cd":50.7},{"t":"2024-07-23T03:00","p":0.98,"tr":24,"cd":55.5},{"t":"2024-07-23T03:55","p":1.15,"tr":30,"cd":65.2}
]
},
"layer": [
 {
  "encoding": {
   "x": {"field": "t", "type": "temporal",
    "scale": {"domain": [{"year": 2024, "month": 7, "date": 18}, {"year": 2024, "month": 7, "date": 23, "hours": 7}], "nice": false},
    "axis": {"title": null, "format": "%d/%m/%Y", "tickCount": {"interval": "day", "step": 1}, "labelAngle": -27, "labelAlign": "right", "labelBaseline": "top", "labelPadding": 10, "labelFontSize": 19, "labelOverlap": false, "labelFlush": false, "labelBound": false, "grid": true, "gridColor": "#d9d9d9", "gridWidth": 1.5, "ticks": false, "domainColor": "#bfbfbf", "domainWidth": 2.5}}
  },
  "layer": [
   {"data": {"name": "bod"}, "mark": {"type": "line", "strokeWidth": 3},
    "encoding": {
     "y": {"field": "v", "type": "quantitative", "scale": {"domain": [0, 5], "nice": false, "zero": true},
       "axis": {"orient": "left", "values": [0, 0.5, 1, 1.5, 2, 2.5, 3, 3.5, 4, 4.5, 5], "format": "~g", "ticks": false, "labelPadding": 18, "labelFontSize": 18, "grid": true, "gridColor": "#d9d9d9", "gridWidth": 1.5, "domainColor": "#d9d9d9", "domainWidth": 1.5, "title": "mg/litre", "titleAngle": 0, "titleX": -41, "titleY": -36, "titleAlign": "center", "titleBaseline": "middle", "titleFontSize": 20}},
     "color": {"datum": "BOD (mg/l)", "type": "nominal",
       "scale": {"domain": ["BOD (mg/l)", "Phosphorus (mg/l)", "Tryptophan (ppb)", "Turbidty (NTU)", "CDOM (µg/l)"], "range": ["#ff0000", "#7030a0", "#92d050", "#843c0c", "#00b0f0"]},
       "legend": {"orient": "none", "legendX": 40, "legendY": 180, "title": null, "symbolType": "stroke", "symbolSize": 1225, "symbolStrokeWidth": 3.5, "labelFontSize": 20, "labelFontWeight": "bold", "labelColor": "#000", "labelFont": "Inter", "labelLimit": 500, "rowPadding": 6, "labelOffset": 3}}
    }},
   {"data": {"name": "hr"}, "mark": {"type": "line", "strokeWidth": 3},
    "encoding": {
     "y": {"field": "p", "type": "quantitative"},
     "color": {"datum": "Phosphorus (mg/l)", "type": "nominal"}
    }}
  ]
 },
 {
  "encoding": {
   "x": {"field": "t", "type": "temporal"}
  },
  "layer": [
   {"data": {"name": "hr"}, "mark": {"type": "line", "strokeWidth": 3},
    "encoding": {
     "y": {"field": "tr", "type": "quantitative", "scale": {"domain": [0, 400], "nice": false},
       "axis": {"orient": "right", "values": [0, 50, 100, 150, 200, 250, 300, 350, 400], "grid": false, "ticks": true, "tickSize": 7, "tickColor": "#bfbfbf", "tickWidth": 1.5, "domainColor": "#bfbfbf", "domainWidth": 1.5, "labelPadding": 12, "labelFontSize": 18, "title": "ppb, NTU,µg/l", "titleAngle": 0, "titleX": 24, "titleY": -36, "titleAlign": "center", "titleBaseline": "middle", "titleFontSize": 20}},
     "color": {"datum": "Tryptophan (ppb)", "type": "nominal"}
    }},
   {"data": {"name": "tu"}, "mark": {"type": "line", "strokeWidth": 3},
    "encoding": {
     "y": {"field": "v", "type": "quantitative"},
     "color": {"datum": "Turbidty (NTU)", "type": "nominal"}
    }},
   {"data": {"name": "hr"}, "mark": {"type": "line", "strokeWidth": 3},
    "encoding": {
     "y": {"field": "cd", "type": "quantitative"},
     "color": {"datum": "CDOM (µg/l)", "type": "nominal"}
    }}
  ]
 }
],
"resolve": {"scale": {"y": "independent"}}
}
